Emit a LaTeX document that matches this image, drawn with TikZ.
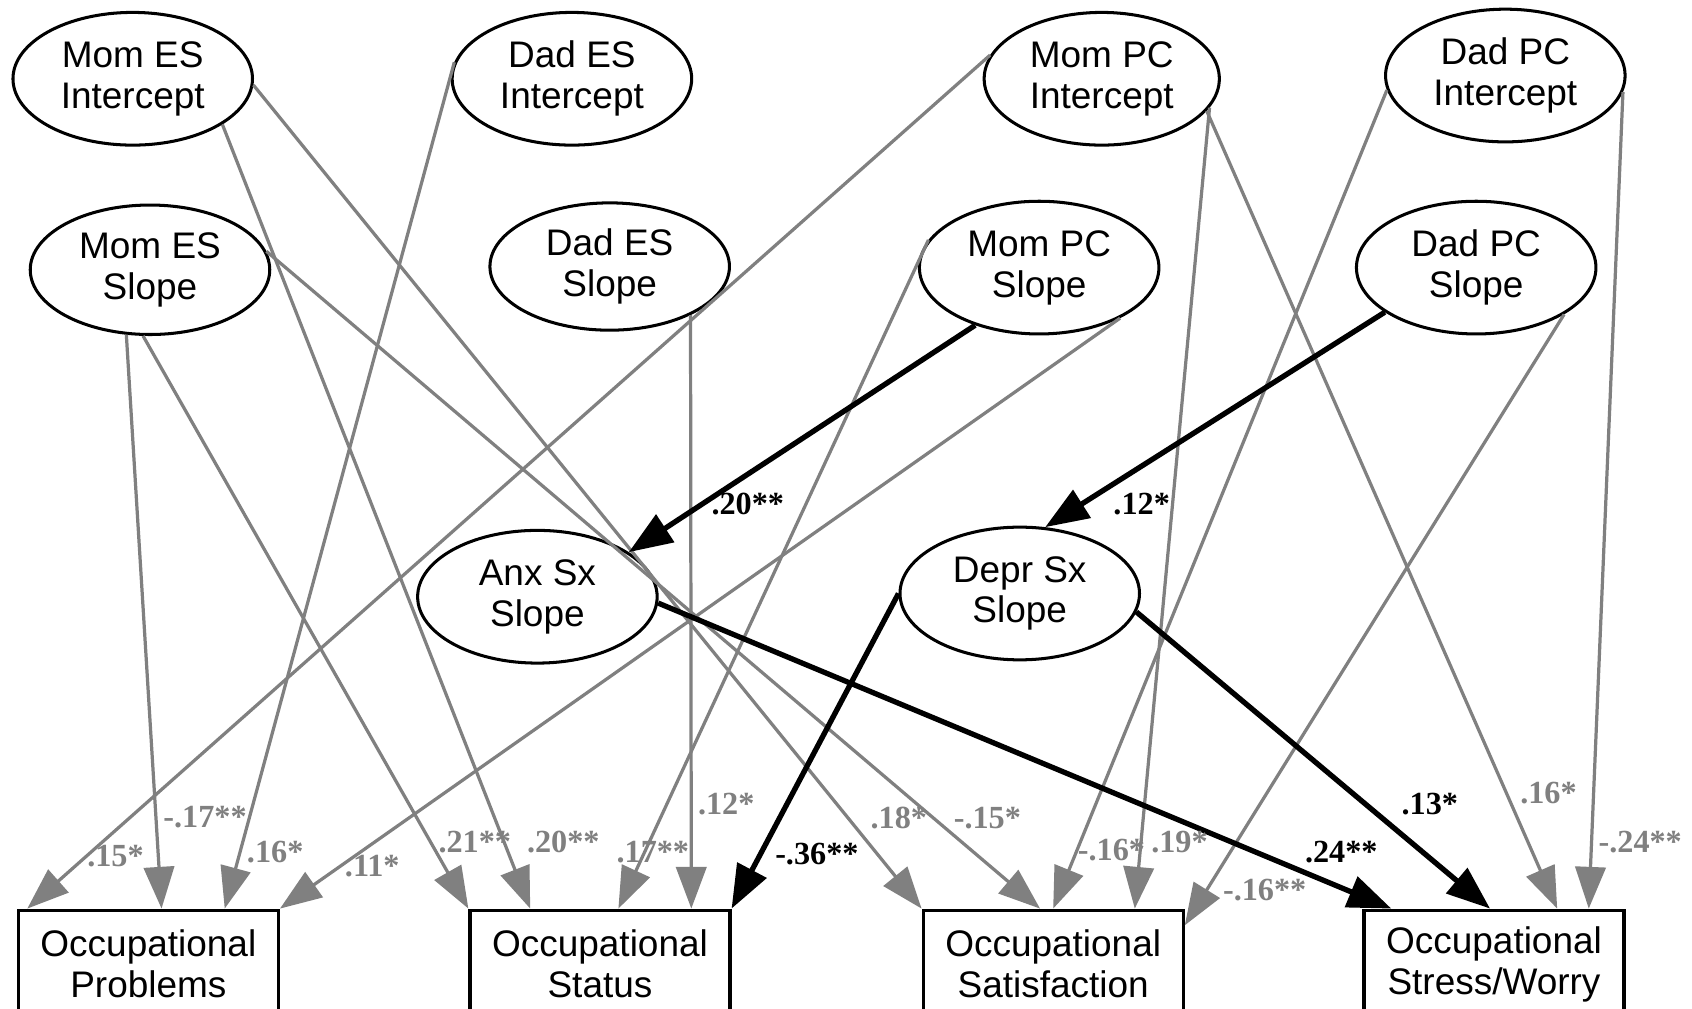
\documentclass[tikz,border=0pt]{standalone}
\usepackage{fontspec}
\setmainfont{Liberation Sans}
\newfontfamily\labfont{Liberation Serif}
\usetikzlibrary{arrows.meta,calc,shapes.geometric}
\definecolor{edgegray}{RGB}{128,128,128}
\begin{document}
\begin{tikzpicture}[x=0.02cm,y=-0.02cm,
  lat/.style={draw, ellipse, line width=1.6pt, minimum width=4.44cm, minimum height=2.46cm,
    inner sep=0pt, align=center, font=\fontsize{19.5}{21.5}\selectfont},
  obs/.style={draw, rectangle, line width=1.7pt, minimum width=4.82cm, minimum height=2cm,
    inner sep=0pt, align=center, anchor=north, font=\fontsize{19.5}{21.5}\selectfont},
  gpath/.style={draw=edgegray, line width=1.7pt, -{Triangle[length=22pt,width=16pt]}},
  bpath/.style={draw=black, line width=2.8pt, -{Triangle[length=23pt,width=17pt]}},
  glab/.style={text=edgegray, inner sep=0pt, font=\labfont\bfseries\fontsize{17}{17}\selectfont},
  blab/.style={text=black, inner sep=0pt, font=\labfont\bfseries\fontsize{17}{17}\selectfont}]
\clip (0,0) rectangle (1568,935);
\fill[white] (0,0) rectangle (1568,935);
% latent nodes
\node[lat] (MEI) at (123,73) {Mom ES\\Intercept};
\node[lat] (DEI) at (530,73) {Dad ES\\Intercept};
\node[lat, minimum width=4.36cm] (MPI) at (1021,73) {Mom PC\\Intercept};
\node[lat] (DPI) at (1395,70) {Dad PC\\Intercept};
\node[lat, minimum height=2.4cm] (MES) at (139,250) {Mom ES\\Slope};
\node[lat, minimum height=2.36cm] (DES) at (565,247) {Dad ES\\Slope};
\node[lat] (MPS) at (963,248) {Mom PC\\Slope};
\node[lat] (DPS) at (1368,248) {Dad PC\\Slope};
\node[lat] (ANX) at (498,553) {Anx Sx\\Slope};
\node[lat] (DEP) at (945,550) {Depr Sx\\Slope};
% observed nodes
\node[obs] (Prob) at (137.5,842) {Occupational\\Problems};
\node[obs] (Stat) at (556,842) {Occupational\\Status};
\node[obs] (Sat) at (976,842) {Occupational\\Satisfaction};
\node[obs] (Str) at (1384.5,842) {Occupational\\Stress/Worry};
% gray paths
\draw[gpath] (MPI.168) -- ($(Prob.north west)!0.04!(Prob.north east)$);
\draw[gpath] (MES.250) -- ($(Prob.north west)!0.55!(Prob.north east)$);
\draw[gpath] (DEI.172) -- ($(Prob.north west)!0.79!(Prob.north east)$);
\draw[gpath] (MPS.328) -- (Prob.north east);
\draw[gpath] (MES.264) -- (Stat.north west);
\draw[gpath] (MEI.333) -- ($(Stat.north west)!0.235!(Stat.north east)$);
\draw[gpath] (MPS.166) -- ($(Stat.north west)!0.57!(Stat.north east)$);
\draw[gpath] (DES.329) -- ($(Stat.north west)!0.847!(Stat.north east)$);
\draw[gpath] (MEI.357) -- (Sat.north west);
\draw[gpath] (MES.9) -- ($(Sat.north west)!0.45!(Sat.north east)$);
\draw[gpath] (DPI.187) -- ($(Sat.north west)!0.50!(Sat.north east)$);
\draw[gpath] (MPI.345) -- ($(Sat.north west)!0.81!(Sat.north east)$);
\draw[gpath] (DPS.332) -- ($(Sat.north east)!0.15!(Sat.south east)$);
\draw[gpath] (MPI.343) -- ($(Str.north west)!0.74!(Str.north east)$);
\draw[gpath] (DPI.352) -- ($(Str.north west)!0.86!(Str.north east)$);
% black paths
\draw[bpath] (MPS.222) -- (ANX.26);
\draw[bpath] (DPS.206) -- (DEP.69);
\draw[bpath] (DEP.180) -- (Stat.north east);
\draw[bpath] (ANX.357) -- ($(Str.north west)!0.11!(Str.north east)$);
\draw[bpath] (DEP.351) -- ($(Str.north west)!0.485!(Str.north east)$);
% labels
\node[glab] (l1) at (107,793) {.15*};
\node[glab] (l2) at (190,757) {-.17**};
\node[glab] (l3) at (255,790) {.16*};
\node[glab] (l4) at (345,803) {.11*};
\node[glab] (l5) at (440,780) {.21**};
\node[glab] (l6) at (522,780) {.20**};
\node[glab] (l7) at (605,790) {.17**};
\node[glab] (l8) at (673,745) {.12*};
\node[blab] (l9) at (757,791) {-.36**};
\node[glab] (l10) at (833,758) {.18*};
\node[glab] (l11) at (915,758) {-.15*};
\node[glab] (l12) at (1030,788) {-.16*};
\node[glab] (l13) at (1093,780) {.19*};
\node[glab] (l14) at (1172,825) {-.16**};
\node[blab] (l15) at (1243,790) {.24**};
\node[blab] (l16) at (1325,745) {.13*};
\node[glab] (l17) at (1435,735) {.16*};
\node[glab] (l18) at (1520,780) {-.24**};
\node[blab] (l19) at (693,467) {.20**};
\node[blab] (l20) at (1058,467) {.12*};
\end{tikzpicture}
\end{document}
